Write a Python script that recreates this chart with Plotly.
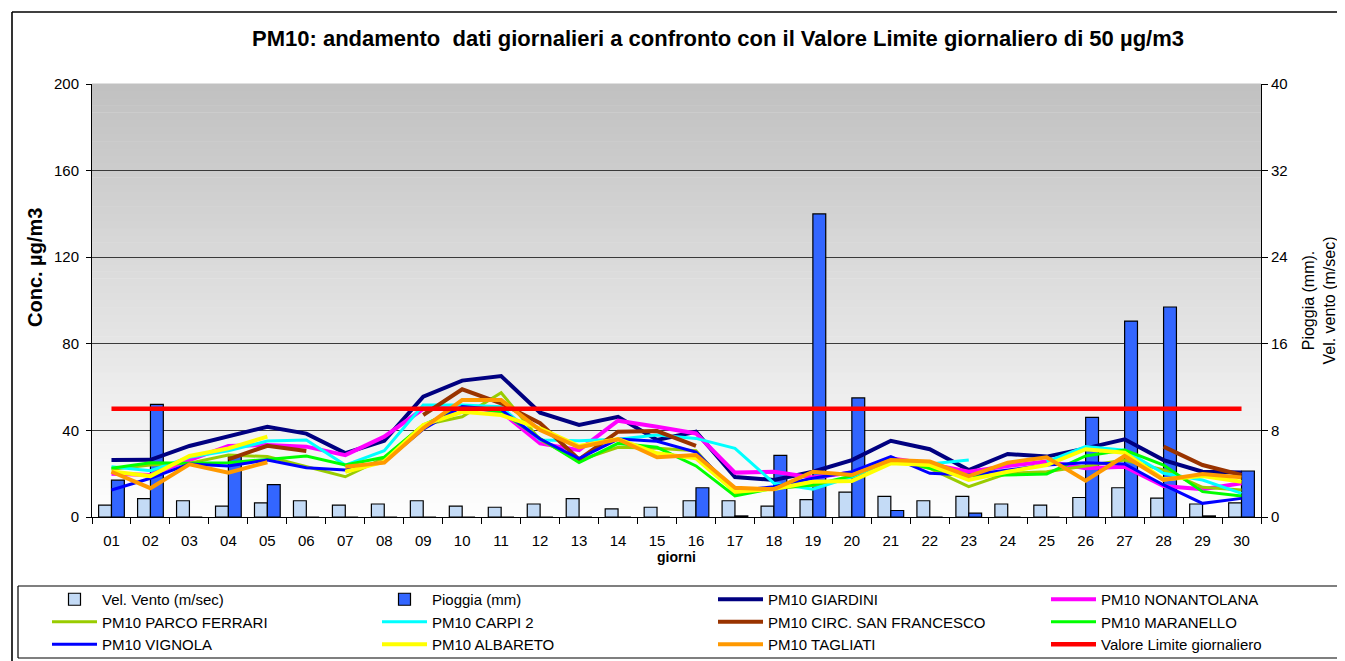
import plotly.graph_objects as go

# ---------------- data ----------------
days = ["01","02","03","04","05","06","07","08","09","10",
        "11","12","13","14","15","16","17","18","19","20",
        "21","22","23","24","25","26","27","28","29","30"]

vel_vento = [1.1, 1.7, 1.5, 1.0, 1.3, 1.5, 1.1, 1.2, 1.5, 1.0,
             0.9, 1.2, 1.7, 0.75, 0.9, 1.5, 1.5, 1.0, 1.6, 2.3,
             1.9, 1.5, 1.9, 1.2, 1.1, 1.8, 2.7, 1.75, 1.2, 1.3]
pioggia = [3.4, 10.4, 0, 5.6, 3.0, 0, 0, 0, 0, 0,
           0, 0, 0, 0, 0, 2.7, 0.1, 5.7, 28.0, 11.0,
           0.6, 0, 0.35, 0, 0, 9.2, 18.1, 19.4, 0.1, 4.25]

giardini = [26.3, 26.4, 32.8, 37.1, 41.7, 38.5, 29.5, 35.2, 55.6, 63.0,
            65.1, 48.2, 42.5, 46.3, 35.6, 39.4, 18.5, 17.1, 20.9, 26.3,
            35.2, 31.3, 21.7, 29.1, 27.9, 31.7, 35.9, 26.3, 20.9, 20.5]
nonantolana = [20.0, 19.4, 26.3, 32.8, 33.3, 32.5, 28.6, 37.1, 50.0, 51.0,
               48.6, 34.0, 30.9, 44.5, 41.7, 38.6, 20.5, 20.9, 18.3, 20.5,
               27.1, 24.5, 20.9, 23.6, 25.6, 22.5, 23.2, 14.3, 12.8, 15.6]
parco_ferrari = [22.0, 24.0, 24.8, 28.6, 27.9, 23.2, 18.6, 27.3, 42.5, 46.3,
                 57.4, 35.6, 26.2, 32.2, 31.7, 30.6, 10.9, 13.3, 14.5, 18.5,
                 26.0, 22.5, 14.0, 20.2, 20.9, 23.6, 26.3, 21.7, 13.7, 12.5]
carpi2 = [23.2, 21.4, 27.6, 30.6, 35.1, 35.6, 24.0, 30.6, 51.7, 51.7,
          50.9, 35.6, 35.2, 35.9, 37.9, 36.3, 31.7, 15.6, 12.8, 18.6,
          26.5, 24.5, 26.3, None, 25.6, 32.5, 30.9, 20.2, 17.1, 10.9]
circ_san_francesco = [None, None, None, 26.6, 32.9, 30.5, None, None, 47.1, 59.0,
                      52.5, 43.3, 26.6, 39.4, 39.7, 32.8, None, None, None, None,
                      None, None, None, None, None, None, None, 32.5, 24.0, 19.4]
maranello = [22.5, 25.1, 24.8, 25.1, 26.6, 28.2, 24.0, 27.6, 42.5, 50.9,
             48.6, 36.3, 25.1, 34.0, 32.2, 23.6, 9.7, 13.3, 14.8, 19.0,
             27.0, 22.5, 19.0, 19.4, 19.9, 28.2, 30.9, 24.0, 11.7, 9.7]
vignola = [12.5, 17.9, 24.5, 23.6, 26.3, 22.8, 21.7, 25.6, 40.5, 51.0,
           49.6, 36.0, 27.0, 36.0, 35.0, 30.0, 12.0, 14.0, 17.9, 20.9,
           27.9, 20.2, 19.4, 21.7, 24.0, 25.1, 24.5, 14.8, 6.3, 8.6]
albareto = [21.0, 18.9, 28.2, 31.7, 37.1, None, 20.9, 25.6, 42.5, 48.6,
            47.1, 41.0, 32.8, 36.0, 29.4, 27.1, 11.7, 12.9, 16.3, 16.6,
            24.8, 24.0, 17.1, 20.9, 24.0, 31.3, 29.7, 17.4, 18.9, 16.3]
tagliati = [20.9, 13.3, 24.3, 20.5, 25.3, None, 23.2, 25.1, 41.0, 54.0,
            54.0, 40.2, 32.2, 35.9, 27.6, 28.6, 13.5, 12.8, 20.9, 19.4,
            26.3, 25.6, 18.9, 25.1, 27.6, 16.8, 28.2, 17.1, 19.9, 18.3]
valore_limite = [50, 50, 50, 50, 50, 50, 50, 50, 50, 50,
                 50, 50, 50, 50, 50, 50, 50, 50, 50, 50,
                 50, 50, 50, 50, 50, 50, 50, 50, 50, 50]

left_ticks = [0, 40, 80, 120, 160, 200]
right_ticks = [0, 8, 16, 24, 32, 40]

# ---------------- layout geometry ----------------
# target positions are screen pixels; the page body adds an 8px offset
OFF = 8
SW, SH = 1345, 661
W, H = SW - OFF, SH - OFF
PL, PR, PT, PB = 92, 1261, 84, 517          # plot area on screen
pw, ph = PR - PL, PB - PT

def px_x(px):
    return (px - PL) / pw

def px_y(py):
    return (PB - py) / ph

FONT = "Arial, Liberation Sans, sans-serif"

fig = go.Figure()

# bars on primary (right-side) axis so that lines (overlaying axis) stay on top
fig.add_trace(go.Bar(
    x=days, y=vel_vento, name="Vel. Vento (m/sec)",
    marker=dict(color="#c4dbf6", line=dict(color="black", width=1.2)),
    yaxis="y", xaxis="x", legend="legend"))
fig.add_trace(go.Bar(
    x=days, y=pioggia, name="Pioggia (mm)",
    marker=dict(color="#3366ff", line=dict(color="black", width=1.2)),
    yaxis="y", xaxis="x", legend="legend2"))

lines = [
    ("PM10 GIARDINI", giardini, "#000080", 4, "legend3"),
    ("PM10 NONANTOLANA", nonantolana, "#ff00ff", 4, "legend4"),
    ("PM10 PARCO FERRARI", parco_ferrari, "#99cc00", 3, "legend"),
    ("PM10 CARPI 2", carpi2, "#00ffff", 3, "legend2"),
    ("PM10 CIRC. SAN FRANCESCO", circ_san_francesco, "#993300", 4, "legend3"),
    ("PM10 MARANELLO", maranello, "#00ff00", 3, "legend4"),
    ("PM10 VIGNOLA", vignola, "#0000ff", 3, "legend"),
    ("PM10 ALBARETO", albareto, "#ffff00", 4, "legend2"),
    ("PM10 TAGLIATI", tagliati, "#ff9900", 4, "legend3"),
    ("Valore Limite giornaliero", valore_limite, "#ff0000", 4.5, "legend4"),
]
for name, vals, col, w, lg in lines:
    fig.add_trace(go.Scatter(
        x=days, y=vals, name=name, mode="lines",
        line=dict(color=col, width=w), connectgaps=False,
        yaxis="y2", xaxis="x", legend=lg))

# gradient background of plot area
nb = 60
for i in range(nb):
    f0, f1 = i / nb, (i + 1) / nb
    g = int(round(255 - ((f0 + f1) / 2) * 63))
    fig.add_shape(type="rect", xref="paper", yref="paper",
                  x0=0, x1=1, y0=f0, y1=f1 + 0.001,
                  fillcolor=f"rgb({g},{g},{g})", line=dict(width=0),
                  layer="below")

# outer chart frame (top + left edges) and legend frame (open on the right)
frame_lines = [
    (12, 12, 1360, 12, 1.6),     # chart frame top
    (12, 12, 12, 680, 1.6),      # chart frame left
    (18, 586, 1360, 586, 1.2),   # legend box top
    (18, 658, 1360, 658, 1.2),   # legend box bottom
    (18, 586, 18, 658, 1.2),     # legend box left
]
for x0, y0, x1, y1, lw in frame_lines:
    fig.add_shape(type="line", xref="paper", yref="paper",
                  x0=px_x(x0), y0=px_y(y0), x1=px_x(x1), y1=px_y(y1),
                  line=dict(color="black", width=lw))

# left axis title (placed as in the original, above the axis centre)
fig.add_annotation(
    text="<b>Conc. µg/m3</b>", textangle=-90, showarrow=False,
    xref="paper", yref="paper", x=px_x(35), y=px_y(268),
    xanchor="center", yanchor="middle",
    font=dict(family=FONT, size=20, color="black"))

legend_common = dict(
    orientation="v", xanchor="left", y=px_y(583), yanchor="top",
    itemwidth=45, font=dict(size=15, family=FONT, color="black"),
    bgcolor="rgba(0,0,0,0)", borderwidth=0, traceorder="normal")

fig.update_layout(
    width=W, height=H,
    margin=dict(l=PL - OFF, r=W - (PR - OFF), t=PT - OFF, b=H - (PB - OFF),
                pad=0, autoexpand=False),
    paper_bgcolor="white", plot_bgcolor="white",
    font=dict(family=FONT, size=15, color="black"),
    barmode="group", bargap=0.34, bargroupgap=0.0,
    title=dict(
        text="<b>PM10: andamento  dati giornalieri a confronto con il Valore Limite giornaliero di 50 µg/m3</b>",
        x=(718 - OFF) / W, xanchor="center", y=1 - (38 - OFF) / H, yanchor="middle",
        font=dict(family=FONT, size=22, color="black")),
    xaxis=dict(
        type="category", tickson="boundaries", ticks="outside", ticklen=6,
        tickcolor="black", showline=True, linecolor="black", linewidth=1,
        showgrid=False, tickfont=dict(size=15), ticklabelstandoff=10,
        automargin=False,
        title=dict(text="<b>giorni</b>", font=dict(size=14), standoff=0)),
    yaxis=dict(
        side="right", range=[0, 40], tickvals=right_ticks,
        ticks="outside", ticklen=6, tickcolor="black",
        showline=True, linecolor="black", linewidth=1,
        showgrid=True, gridcolor="#3a3a3a", gridwidth=1, zeroline=False,
        tickfont=dict(size=15), automargin=False,
        title=dict(text="Pioggia (mm).<br>Vel. vento (m/sec)",
                   font=dict(size=16), standoff=16)),
    yaxis2=dict(
        overlaying="y", side="left", range=[0, 200], tickvals=left_ticks,
        ticks="outside", ticklen=5, tickcolor="black",
        showline=True, linecolor="black", linewidth=1,
        showgrid=False, zeroline=False, tickfont=dict(size=15),
        ticklabelstandoff=4, automargin=False),
    legend=dict(x=px_x(47), **legend_common),
    legend2=dict(x=px_x(377), **legend_common),
    legend3=dict(x=px_x(713), **legend_common),
    legend4=dict(x=px_x(1046), **legend_common),
    showlegend=True,
)

fig.write_html("out.html")
